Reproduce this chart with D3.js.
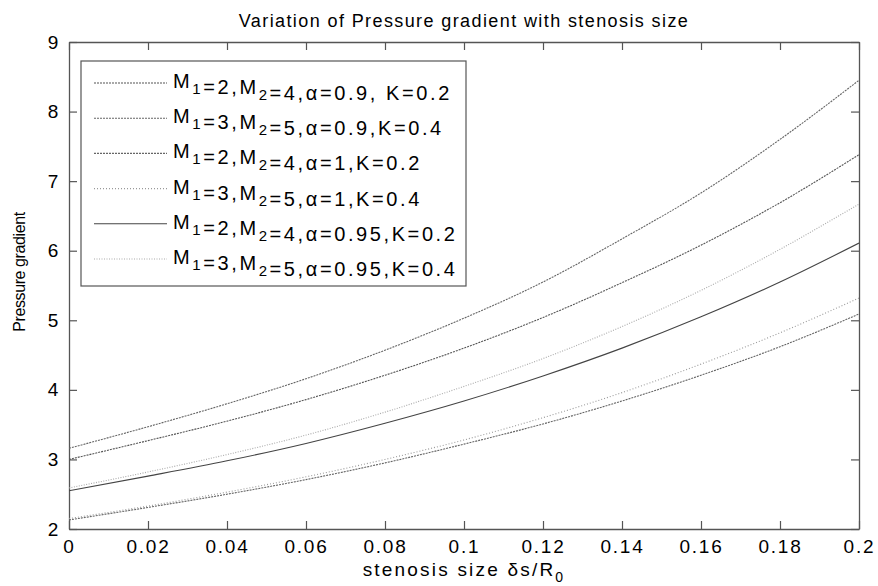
<!DOCTYPE html>
<html>
<head>
<meta charset="utf-8">
<script src="https://cdn.jsdelivr.net/npm/d3@7"></script>
<style>
  body { margin: 0; background: #fff; }
  svg { display: block; font-family: "Liberation Sans", Arial, Helvetica, sans-serif; }
</style>
</head>
<body>
<div id="chart"></div>
<script>
// stenosis size (x) and pressure gradient for each parameter set
const stenosisSize = [0, 0.02, 0.04, 0.06, 0.08, 0.1, 0.12, 0.14, 0.16, 0.18, 0.2];

const pg_M24_a090_K02 = [3.00, 3.27, 3.55, 3.86, 4.21, 4.60, 5.04, 5.54, 6.08, 6.69, 7.38];
const pg_M35_a090_K04 = [3.16, 3.47, 3.80, 4.16, 4.57, 5.03, 5.55, 6.17, 6.83, 7.60, 8.45];
const pg_M24_a100_K02 = [2.13, 2.31, 2.50, 2.71, 2.95, 3.22, 3.51, 3.84, 4.21, 4.62, 5.09];
const pg_M35_a100_K04 = [2.15, 2.33, 2.53, 2.75, 3.00, 3.28, 3.60, 3.96, 4.37, 4.82, 5.32];
const pg_M24_a095_K02 = [2.55, 2.76, 2.98, 3.23, 3.52, 3.84, 4.20, 4.60, 5.05, 5.55, 6.11];
const pg_M35_a095_K04 = [2.59, 2.82, 3.07, 3.35, 3.68, 4.05, 4.45, 4.91, 5.43, 6.02, 6.67];

const seriesLabels = [
  "M_1=2,M_2=4,α=0.9, K=0.2",
  "M_1=3,M_2=5,α=0.9,K=0.4",
  "M_1=2,M_2=4,α=1,K=0.2",
  "M_1=3,M_2=5,α=1,K=0.4",
  "M_1=2,M_2=4,α=0.95,K=0.2",
  "M_1=3,M_2=5,α=0.95,K=0.4"
];
const seriesValues = [pg_M24_a090_K02, pg_M35_a090_K04, pg_M24_a100_K02,
                      pg_M35_a100_K04, pg_M24_a095_K02, pg_M35_a095_K04];

const xTicks = [0, 0.02, 0.04, 0.06, 0.08, 0.1, 0.12, 0.14, 0.16, 0.18, 0.2];
const yTicks = [2, 3, 4, 5, 6, 7, 8, 9];

// line look per series (matlab-ish dotted greys, one solid)
const styles = [
  { stroke: "#555", dash: "2,1" },
  { stroke: "#666", dash: "2,1" },
  { stroke: "#666", dash: "2,1" },
  { stroke: "#999", dash: "1,2" },
  { stroke: "#444", dash: null },
  { stroke: "#aaa", dash: "1,1.5" }
];

const W = 878, H = 586;
const margin = { top: 42, right: 19, bottom: 57, left: 69 };
const width = W - margin.left - margin.right;
const height = H - margin.top - margin.bottom;

const svg = d3.select("#chart").append("svg")
  .attr("width", W)
  .attr("height", H);

const g = svg.append("g")
  .attr("transform", `translate(${margin.left},${margin.top})`);

const x = d3.scaleLinear().domain([0, 0.2]).range([0, width]);
const y = d3.scaleLinear().domain([2, 9]).range([height, 0]);

const axisColor = "#555";
const tickFont = "19px";

function styleAxis(sel) {
  sel.attr("font-family", null).attr("font-size", null);
  sel.select(".domain").attr("stroke", axisColor).attr("stroke-width", 1.3);
  sel.selectAll(".tick line").attr("stroke", axisColor).attr("stroke-width", 1.2);
  sel.selectAll(".tick text")
    .attr("fill", "#000")
    .style("font-size", tickFont)
    .style("letter-spacing", "1.8px");
}

// bottom + left with labels, ticks pointing inward
g.append("g")
  .attr("transform", `translate(0,${height})`)
  .call(d3.axisBottom(x).tickValues(xTicks).tickSizeInner(-8).tickSizeOuter(0)
    .tickPadding(8).tickFormat(d => d3.format("~g")(d)))
  .call(styleAxis)
  .call(s => s.selectAll(".tick text").attr("dy", "0.85em"));

g.append("g")
  .call(d3.axisLeft(y).tickValues(yTicks).tickSizeInner(-8).tickSizeOuter(0)
    .tickPadding(9).tickFormat(d3.format("d")))
  .call(styleAxis);

// top + right frame with ticks, no labels
g.append("g")
  .call(d3.axisTop(x).tickValues(xTicks).tickSizeInner(-8).tickSizeOuter(0).tickFormat(""))
  .call(styleAxis);

g.append("g")
  .attr("transform", `translate(${width},0)`)
  .call(d3.axisRight(y).tickValues(yTicks).tickSizeInner(-8).tickSizeOuter(0).tickFormat(""))
  .call(styleAxis);

// curves
g.append("clipPath").attr("id", "plotclip")
  .append("rect").attr("width", width).attr("height", height);

const line = d3.line()
  .x((d, i) => x(stenosisSize[i]))
  .y(d => y(d))
  .curve(d3.curveMonotoneX);

g.append("g").attr("clip-path", "url(#plotclip)")
  .selectAll("path")
  .data(seriesValues)
  .enter().append("path")
  .attr("fill", "none")
  .attr("stroke", (d, i) => styles[i].stroke)
  .attr("stroke-width", 1.1)
  .attr("stroke-dasharray", (d, i) => styles[i].dash)
  .attr("d", line);

// legend
function addLabel(textSel, label, size) {
  const parts = label.split(/_(\d)/);
  parts.forEach((p, i) => {
    if (!p) return;
    if (i % 2 === 1) {
      textSel.append("tspan").attr("dy", 6).style("font-size", (size - 5) + "px").text(p);
      textSel.append("tspan").attr("dy", -6).text("");
    } else {
      textSel.append("tspan").text(p);
    }
  });
}

const legend = g.append("g").attr("transform", "translate(12,19)");
legend.append("rect")
  .attr("width", 385)
  .attr("height", 225)
  .attr("fill", "#fff")
  .attr("stroke", "#555")
  .attr("stroke-width", 1.2);

const rows = legend.selectAll("g.row")
  .data(seriesLabels)
  .enter().append("g")
  .attr("class", "row")
  .attr("transform", (d, i) => `translate(0,${22 + i * 35.2})`);

rows.append("line")
  .attr("x1", 13).attr("x2", 86)
  .attr("y1", 0).attr("y2", 0)
  .attr("stroke", (d, i) => styles[i].stroke)
  .attr("stroke-width", 1.1)
  .attr("stroke-dasharray", (d, i) => styles[i].dash);

rows.append("text")
  .attr("x", 92)
  .attr("y", 5)
  .style("font-size", "20px")
  .style("letter-spacing", "2.6px")
  .attr("fill", "#000")
  .each(function(d) { addLabel(d3.select(this), d, 20); });

// titles
svg.append("text")
  .attr("x", margin.left + width / 2)
  .attr("y", 27)
  .attr("text-anchor", "middle")
  .style("font-size", "18px")
  .style("letter-spacing", "1.4px")
  .text("Variation of Pressure gradient with stenosis size");

const xl = svg.append("text")
  .attr("x", margin.left + width / 2)
  .attr("y", 576)
  .attr("text-anchor", "middle")
  .style("font-size", "19px")
  .style("letter-spacing", "2.2px");
xl.append("tspan").text("stenosis size δs/R");
xl.append("tspan").attr("dy", 6).style("font-size", "14px").text("0");

svg.append("text")
  .attr("transform", `translate(25,272) rotate(-90)`)
  .attr("text-anchor", "middle")
  .style("font-size", "16px")
  .style("letter-spacing", "-0.4px")
  .text("Pressure gradient");
</script>
</body>
</html>
